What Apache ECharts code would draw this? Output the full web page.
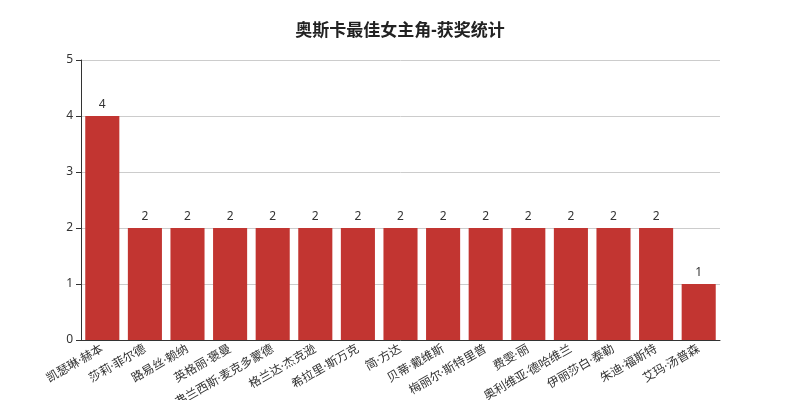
<!DOCTYPE html>
<html>
<head>
<meta charset="utf-8">
<script src="https://cdn.jsdelivr.net/npm/echarts@6/dist/echarts.min.js"></script>
<style>html,body{margin:0;padding:0;background:#fff;}#main{width:800px;height:400px;}</style>
</head>
<body>
<div id="main"></div>
<script>
var titleText = '奥斯卡最佳女主角-获奖统计';
var categories = ['凯瑟琳·赫本','莎莉·菲尔德','路易丝·赖纳','英格丽·褒曼','弗兰西斯·麦克多蒙德','格兰达·杰克逊','希拉里·斯万克','简·方达','贝蒂·戴维斯','梅丽尔·斯特里普','费雯·丽','奥利维亚·德哈维兰','伊丽莎白·泰勒','朱迪·福斯特','艾玛·汤普森'];
var awards = [4,2,2,2,2,2,2,2,2,2,2,2,2,2,1];

var font = '"Noto Sans", "Noto Sans CJK SC", sans-serif';
var chart = echarts.init(document.getElementById('main'));
chart.setOption({
  animation: false,
  textStyle: { fontFamily: font },
  title: {
    text: titleText,
    left: 'center',
    top: 18,
    textStyle: { fontSize: 17, fontWeight: 'bold', color: '#222', fontFamily: font }
  },
  grid: { left: 81, right: 80, top: 60, bottom: 60, containLabel: false, outerBoundsMode: 'none' },
  xAxis: {
    type: 'category',
    data: categories,
    axisLine: { lineStyle: { color: '#333' } },
    axisTick: { lineStyle: { color: '#333' } },
    axisLabel: { rotate: 30, interval: 0, color: '#333', fontSize: 12, margin: 8, fontFamily: font }
  },
  yAxis: {
    type: 'value',
    min: 0, max: 5, interval: 1,
    axisLine: { show: true, lineStyle: { color: '#333' } },
    axisTick: { show: true, lineStyle: { color: '#333' } },
    axisLabel: { color: '#333', fontSize: 12, fontFamily: font },
    splitLine: { lineStyle: { color: '#ccc' } }
  },
  series: [{
    type: 'bar',
    data: awards,
    itemStyle: { color: '#c23531' },
    barCategoryGap: '20%',
    label: { show: true, position: 'top', color: '#333', fontSize: 12, fontFamily: font }
  }]
});
</script>
</body>
</html>
